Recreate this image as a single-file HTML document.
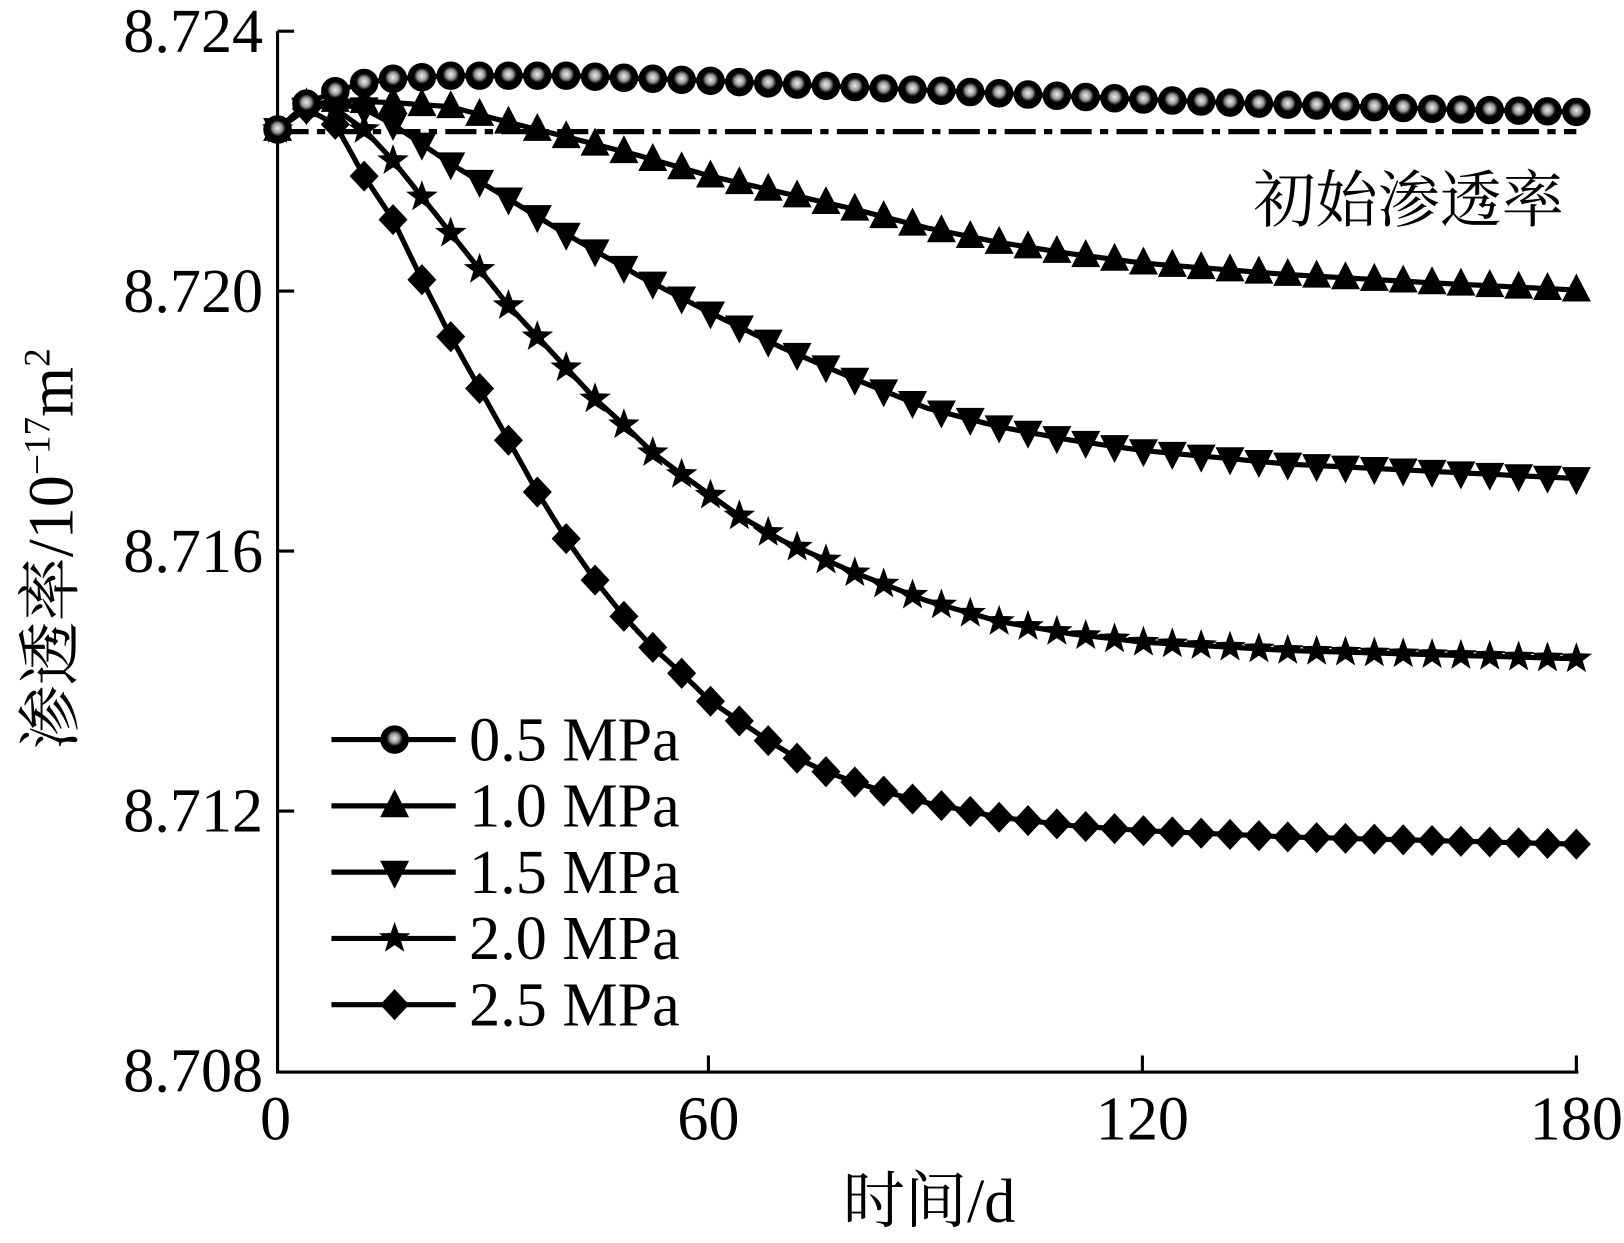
<!DOCTYPE html>
<html><head><meta charset="utf-8"><style>
html,body{margin:0;padding:0;background:#fff;}
svg{display:block;}
text{font-family:"Liberation Serif","Noto Serif CJK SC",serif;fill:#000;}
</style></head><body>
<svg id="s" width="1624" height="1243" viewBox="0 0 1568 1200" xmlns="http://www.w3.org/2000/svg">
<defs>
<radialGradient id="g" cx="0.5" cy="0.45" r="0.5">
<stop offset="0" stop-color="#eee"/><stop offset="0.35" stop-color="#999"/><stop offset="0.6" stop-color="#000"/><stop offset="1" stop-color="#000"/>
</radialGradient>
</defs>
<g stroke="#000" stroke-width="3" fill="none">
<line x1="268" y1="30" x2="268" y2="1036"/>
<line x1="266.5" y1="1035" x2="1524" y2="1035"/>
<line x1="268" y1="30" x2="284" y2="30"/>
<line x1="268" y1="281" x2="284" y2="281"/>
<line x1="268" y1="532" x2="284" y2="532"/>
<line x1="268" y1="783" x2="284" y2="783"/>
<line x1="684" y1="1035" x2="684" y2="1019"/>
<line x1="1103" y1="1035" x2="1103" y2="1019"/>
<line x1="1522" y1="1035" x2="1522" y2="1019"/>
<line x1="268" y1="127" x2="1522" y2="127" stroke-width="5" stroke-dasharray="30,8,8,8"/>
</g>
<g font-size="60" text-anchor="end">
<text x="254" y="50">8.724</text><text x="254" y="301">8.720</text>
<text x="254" y="552">8.716</text><text x="254" y="803">8.712</text>
<text x="254" y="1054">8.708</text>
</g>
<g font-size="60" text-anchor="middle">
<text x="266" y="1100">0</text><text x="684" y="1100">60</text>
<text x="1103" y="1100">120</text><text x="1522" y="1100">180</text>
<text x="897" y="1180">时间/d</text>
</g>
<text x="1210" y="214" font-size="60">初始渗透率</text>
<text transform="translate(70,530) rotate(-90)" font-size="62" text-anchor="middle">渗透率/10<tspan font-size="36" dy="-22">−17</tspan><tspan dy="22">m</tspan><tspan font-size="36" dy="-22">2</tspan></text>
<g id="data"></g>
</svg>
<script>
var X=function(t){return 268+t*(1522-268)/180;};
var S=[
{m:'c',a:[[0,125],[4,100],[8,88],[12,80],[16,76],[24,73],[40,73],[60,78],[80,84],[100,90],[120,96],[140,101],[160,105],[180,108]]},
{m:'u',a:[[0,125],[4,102],[8,97],[16,99],[24,103],[32,118],[40,132],[50,150],[60,170],[70,186],[80,202],[90,220],[100,234],[110,245],[120,254],[140,265],[160,273],[180,280]]},
{m:'d',a:[[0,125],[4,105],[8,100],[12,105],[16,120],[24,158],[32,192],[40,226],[50,266],[60,302],[70,336],[80,366],[90,394],[100,412],[110,425],[120,435],[140,448],[160,455],[180,462]]},
{m:'s',a:[[0,125],[4,100],[8,105],[12,125],[16,155],[20,190],[24,225],[28,260],[32,295],[36,325],[40,355],[44,385],[48,410],[52,437],[56,458],[60,478],[64,498],[70,522],[80,553],[90,580],[100,600],[110,612],[120,620],[140,628],[160,632],[180,636]]},
{m:'D',a:[[0,125],[4,105],[8,120],[12,170],[16,212],[20,270],[24,325],[28,375],[32,425],[36,475],[40,520],[44,560],[48,595],[52,625],[56,650],[60,677],[64,696],[68,715],[72,732],[76,745],[80,755],[85,766],[90,775],[100,789],[110,797],[120,802],[140,808],[180,815]]}];
function f(a,t){for(var i=1;i<a.length;i++){if(t<=a[i][0]){var p=a[i-1],q=a[i];return p[1]+(q[1]-p[1])*(t-p[0])/(q[0]-p[0]);}}return a[a.length-1][1];}
function mk(m,x,y){
 if(m=='c')return '<circle cx="'+x+'" cy="'+y+'" r="13" fill="url(#g)" stroke="#000" stroke-width="1.5"/>';
 if(m=='u')return '<polygon points="'+x+','+(y-16)+' '+(x-14)+','+(y+11)+' '+(x+14)+','+(y+11)+'" fill="#000"/>';
 if(m=='d')return '<polygon points="'+x+','+(y+16)+' '+(x-14)+','+(y-11)+' '+(x+14)+','+(y-11)+'" fill="#000"/>';
 if(m=='D')return '<polygon points="'+x+','+(y-15)+' '+(x+14)+','+y+' '+x+','+(y+15)+' '+(x-14)+','+y+'" fill="#000"/>';
 var p=[];for(var k=0;k<10;k++){var r=k%2?6.5:16,an=-Math.PI/2+k*Math.PI/5;p.push((x+r*Math.cos(an)).toFixed(1)+','+(y+r*Math.sin(an)).toFixed(1));}
 return '<polygon points="'+p.join(' ')+'" fill="#000"/>';
}
var h='';
S.forEach(function(s){var pts=[];for(var t=0;t<=180;t+=1)pts.push(X(t).toFixed(1)+','+f(s.a,t).toFixed(1));
 h+='<polyline points="'+pts.join(' ')+'" fill="none" stroke="#000" stroke-width="5"/>';});
for(var i=S.length-1;i>=0;i--){var s=S[i];for(var t=0;t<=180;t+=4)h+=mk(s.m,X(t),f(s.a,t));}
var ly=[714,778,842,906,970],lb=['0.5','1.0','1.5','2.0','2.5'];
S.forEach(function(s,i){h+='<line x1="320" y1="'+ly[i]+'" x2="440" y2="'+ly[i]+'" stroke="#000" stroke-width="5"/>'+mk(s.m,381,ly[i])+
 '<text x="453" y="'+(ly[i]+20)+'" font-size="60">'+lb[i]+' MPa</text>';});
document.getElementById('data').innerHTML=h;
</script>
</body></html>
